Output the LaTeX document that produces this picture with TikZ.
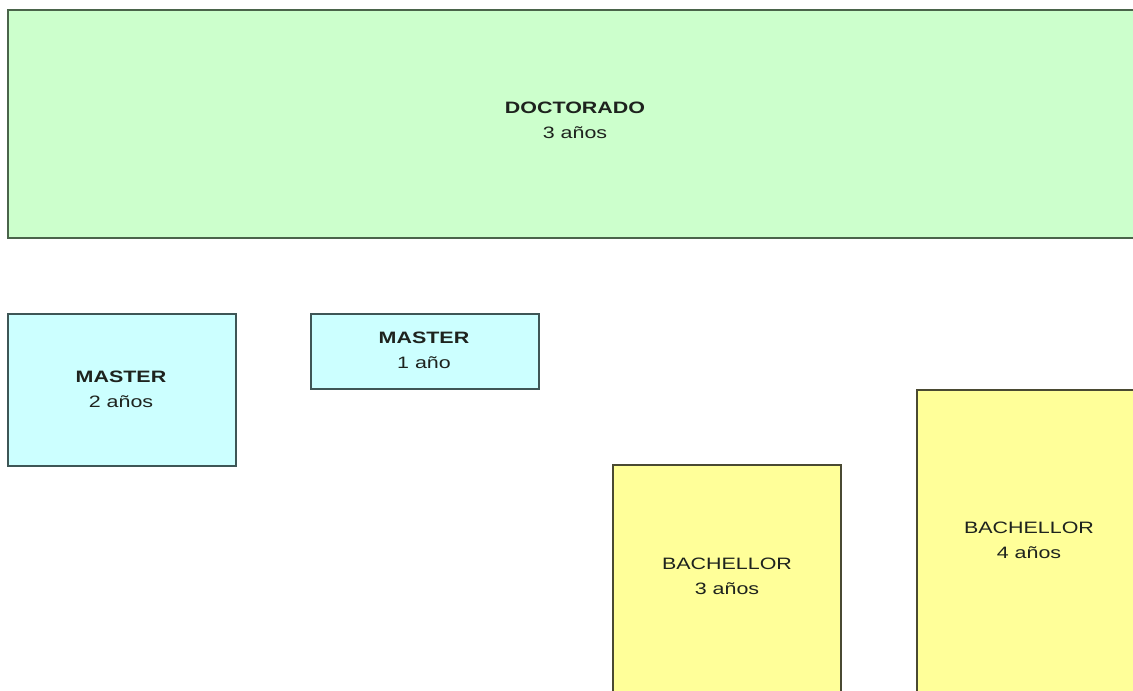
\documentclass[tikz,border=0pt]{standalone}
\usepackage{fontspec}
\setmainfont{Liberation Sans}
\definecolor{docfill}{HTML}{CCFFCC}
\definecolor{docline}{HTML}{4A644A}
\definecolor{mfill}{HTML}{CCFFFF}
\definecolor{mline}{HTML}{3E5656}
\definecolor{bfill}{HTML}{FFFF99}
\definecolor{bline}{HTML}{4A4A32}
\definecolor{txt}{HTML}{1E231E}
\newcommand{\wide}[1]{\scalebox{1.3}[1]{#1}}
\begin{document}
\begin{tikzpicture}[x=1pt,y=-1pt,
  boxstyle/.style={line width=2pt},
  lbl/.style={text=txt,align=center,font=\fontsize{16.5}{25}\selectfont,inner sep=0pt}]
\useasboundingbox (0,0) rectangle (1133,691);
\clip (0,0) rectangle (1133,691);
\fill[white] (0,0) rectangle (1133,691);
% Doctorado
\draw[boxstyle,draw=docline,fill=docfill] (8,10) rectangle (1145,238);
\node[lbl] (doc) at (575,120) {\wide{\textbf{DOCTORADO}}\\\wide{3 años}};
% Master 2
\draw[boxstyle,draw=mline,fill=mfill] (8,314) rectangle (236,466);
\node[lbl] (m2) at (121,389) {\wide{\textbf{MASTER}}\\\wide{2 años}};
% Master 1
\draw[boxstyle,draw=mline,fill=mfill] (311,314) rectangle (539,389);
\node[lbl] (m1) at (424,350) {\wide{\textbf{MASTER}}\\\wide{1 año}};
% Bachellor 3
\draw[boxstyle,draw=bline,fill=bfill] (613,465) rectangle (841,700);
\node[lbl] (b3) at (727,576) {\wide{BACHELLOR}\\\wide{3 años}};
% Bachellor 4
\draw[boxstyle,draw=bline,fill=bfill] (917,390) rectangle (1145,700);
\node[lbl] (b4) at (1029,540) {\wide{BACHELLOR}\\\wide{4 años}};
\end{tikzpicture}
\end{document}
